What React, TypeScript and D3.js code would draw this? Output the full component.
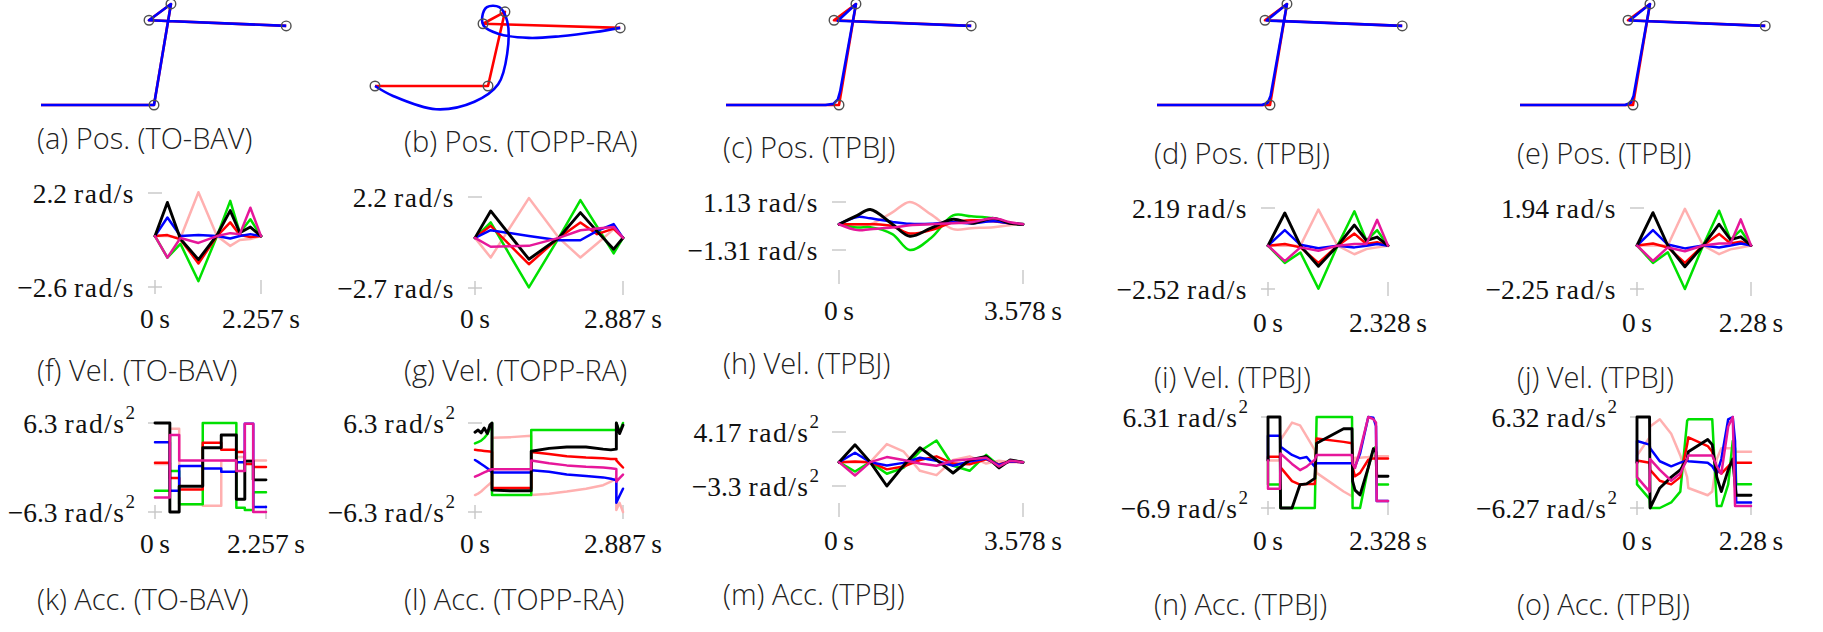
import * as d3 from 'd3';

// joint order in every series list: black, blue, red, green, magenta, pink
const JOINT_COLORS = ['#000000', '#0000ff', '#ff0000', '#00e000', '#e6179a', '#ffb0b0'];
const DRAW_ORDER = [5, 3, 2, 1, 0, 4];

// ---- path waypoints (workspace units): start, corner, top, upper-left, end ----
const wpX = [0, 1.0, 1.15, 0.956, 2.17];
const wpY = [0, 0, 0.894, 0.75, 0.7];

// executed paths
const toppBX = [0, 0.16, 0.54, 0.88, 1.09, 1.17, 1.17, 1.1, 0.99, 0.95, 0.96, 1.09, 1.36, 1.64, 1.95, 2.17];
const toppBY = [0, -0.12, -0.28, -0.19, 0.02, 0.39, 0.78, 0.95, 0.95, 0.84, 0.73, 0.63, 0.58, 0.6, 0.65, 0.7];
const tpbjCX = [0, 0.88, 0.95, 0.99, 1.01, 1.15, 0.99, 2.17];
const tpbjCY = [0, 0, 0.01, 0.05, 0.12, 0.894, 0.745, 0.7];
const tpbjDX = [0, 0.93, 0.98, 1.005, 1.15, 0.97, 2.17];
const tpbjDY = [0, 0, 0.02, 0.08, 0.894, 0.748, 0.7];

// ---- velocity data ----
const fTimes = [0, 0.264, 0.542, 0.925, 1.32, 1.602, 1.806, 2.031, 2.257];
const fVel = [
  [0, 1.72, -0.15, -1.2, 0.05, 1.3, 0.17, 0.46, 0],
  [0, 0.95, 0, 0.05, 0, -0.12, 0, 0.1, 0],
  [0, 0.05, -0.17, -1.4, 0, 0.7, 0.05, -0.05, 0],
  [0, -1.1, -0.4, -2.3, 0, 1.8, 0.17, 0.86, 0],
  [0, -1.1, -0.1, -0.35, 0, 0.15, 0.1, 1.45, 0],
  [0, 0, -0.1, 2.24, 0, -0.5, -0.2, -0.15, 0],
];

const gTimes = [0, 0.306, 1.051, 1.634, 2.056, 2.382, 2.705, 2.887];
const gVel = [
  [0, 1.45, -1.15, 0, 1.36, 0.35, -0.61, 0],
  [0, 0.41, 0.1, -0.13, -0.13, 0.38, 0.74, 0],
  [0, 0.65, -1.42, 0, 0.83, 0.2, 0.5, 0],
  [0, 0.83, -2.67, 0, 2.03, 0.6, -0.84, 0],
  [0, -0.48, -0.43, 0, 0.41, 0.5, 0.59, 0],
  [0, -1.06, 2.14, 0, -1.06, -0.3, 0.47, 0],
];

const hTimes = [0, 0.358, 0.608, 1.038, 1.378, 1.789, 2.218, 2.576, 3.006, 3.328, 3.578];
const hVel = [
  [0, 0.45, 0.75, 0, -0.61, -0.2, 0.25, 0.05, 0.3, 0.05, 0],
  [0, 0.37, 0.3, 0.12, 0.02, 0.02, 0.1, 0.05, 0.15, 0.05, 0],
  [0, 0, 0, -0.1, -0.47, -0.3, 0.1, 0.2, 0.15, 0.05, 0],
  [0, -0.17, -0.15, -0.5, -1.31, -0.7, 0.45, 0.4, 0.3, 0.05, 0],
  [0, -0.3, -0.25, -0.17, -0.05, 0, 0.05, 0.1, 0.3, 0.1, 0],
  [0, -0.05, 0, 0.6, 1.13, 0.5, -0.25, -0.2, -0.15, -0.05, 0],
];

const iTimes = [0, 0.326, 0.629, 0.978, 1.35, 1.676, 1.909, 2.118, 2.328];
const iVel = [
  [0, 1.9, 0, -1.2, 0, 1.2, 0.3, 0.5, 0],
  [0, 0.9, 0.05, -0.15, 0, -0.1, 0, 0.1, 0],
  [0, 0.1, -0.1, -1.0, 0, 0.7, 0.1, 0.2, 0],
  [0, -1.0, -0.4, -2.5, 0, 2.0, 0.3, 0.9, 0],
  [0, -0.9, -0.1, -0.3, 0, 0.1, 0.1, 1.5, 0],
  [0, 0, 0, 2.1, 0, -0.5, -0.2, -0.1, 0],
];

const jTimes = [0, 0.319, 0.616, 0.958, 1.322, 1.642, 1.87, 2.075, 2.28];
const jVel = [
  [0, 1.7, 0, -1.1, 0, 1.1, 0.3, 0.45, 0],
  [0, 0.8, 0.05, -0.15, 0, -0.1, 0, 0.1, 0],
  [0, 0.1, -0.1, -0.9, 0, 0.6, 0.1, 0.2, 0],
  [0, -0.9, -0.35, -2.25, 0, 1.8, 0.3, 0.8, 0],
  [0, -0.8, -0.1, -0.3, 0, 0.1, 0.1, 1.35, 0],
  [0, 0, 0, 1.9, 0, -0.45, -0.2, -0.1, 0],
];

// ---- acceleration data ----
const kTimes = [0, 0.302, 0.492, 0.971, 1.347, 1.654, 1.826, 1.997, 2.257];
const kAcc = [
  [6.3, -6.3, -2.66, 2.8, 4.6, -4.5, 0.9, -1.75, -1.75],
  [3.57, -3.3, 0.2, -0.15, -0.6, 0.75, 6.2, -5.6, -5.6],
  [0.66, -1.5, -3.1, 3.5, 2.5, 2.2, 0.5, 0.07, 0.07],
  [-3.3, -0.5, -5.2, 6.3, 6.3, -5.7, -6.0, -3.5, -3.5],
  [-4.25, 4.6, 0.98, 0.98, 0.98, -0.5, 6.2, -6.3, -6.3],
  [0.5, 5.5, -5.2, -5.4, 1.0, 1.5, 1.0, 1.0, 1.0],
];

const lTimes = [0, 0.06, 0.12, 0.18, 0.24, 0.29, 0.332, 0.332, 0.7, 1.097, 1.097, 1.444, 1.79, 2.165, 2.5, 2.65, 2.757, 2.757, 2.82, 2.887];
const lAcc = [
  [5.0, 5.3, 4.9, 5.6, 4.8, 6.0, 6.3, -3.2, -3.3, -3.3, 2.3, 2.7, 2.9, 2.9, 2.6, 2.5, 2.6, 6.3, 4.8, 6.0],
  [1.06, 0.8, 0.5, 0.2, -0.1, -0.4, -0.7, -0.7, -0.7, -0.7, -0.4, -0.6, -1.0, -1.2, -1.4, -1.6, -1.8, -5.0, -4.0, -3.0],
  [2.5, 2.45, 2.4, 2.35, 2.3, 2.25, 2.2, -2.9, -2.9, -2.9, 2.2, 1.9, 1.6, 1.4, 1.3, 1.2, 1.2, 1.0, 0.5, 0.0],
  [3.4, 3.6, 3.8, 4.2, 4.7, 5.5, 6.3, -3.9, -3.9, -3.9, 5.3, 5.3, 5.3, 5.3, 5.3, 5.3, 5.3, 6.3, 5.0, 6.3],
  [-1.3, -1.1, -0.9, -0.7, -0.5, -0.35, -0.25, -0.25, -0.25, -0.25, 1.0, 0.6, 0.3, 0.1, 0.0, -0.1, -0.2, -2.0, -1.5, -1.0],
  [-3.9, -3.7, -3.4, -3.0, -2.6, -2.3, -2.0, 4.2, 4.3, 4.5, -3.9, -3.7, -3.4, -3.0, -2.5, -2.0, -1.5, -6.0, -5.0, -6.3],
];

const mTimes = [0, 0.311, 0.608, 0.93, 1.252, 1.574, 1.896, 2.218, 2.54, 2.862, 3.113, 3.328, 3.578];
const mAcc = [
  [0, 2.4, 0, -3.3, -0.5, 2.0, 0.3, -1.5, 0.3, 0.8, -0.8, 0.3, 0],
  [0, 1.3, 0, -0.46, -0.1, 0.6, 0.2, -0.5, 0.1, 0.5, -0.4, 0.1, 0],
  [0, 0.1, 0, -1.0, -0.6, 0.3, 0.8, -0.2, -0.3, 0.4, -0.3, 0.1, 0],
  [0, -1.3, 0, -1.6, -0.8, 1.5, 3.0, -0.5, -1.2, 1.0, -0.5, 0.2, 0],
  [0, -1.84, 0, 0.7, 0.3, -0.2, -0.5, 0.2, 0.4, 0.6, -0.6, 0.2, 0],
  [0, 0, 0, 2.5, 1.5, -1.2, -1.8, 0.3, 0.8, -0.2, 0.2, 0, 0],
];

const nTimes = [0, 0, 0.233, 0.244, 0.466, 0.622, 0.75, 0.908, 0.943, 1.467, 1.63, 1.641, 1.688, 1.786, 1.946, 2.044, 2.095, 2.109, 2.328];
const nAcc = [
  [0, 6.31, 6.31, -6.9, -6.9, -3.5, -3.4, -2.6, 2.5, 4.6, 4.6, -3.0, -4.3, -5.0, -1.0, 1.7, 1.2, -2.3, -2.3],
  [0, 3.6, 3.6, 2.0, 0.8, 0.3, 0.5, -0.9, -0.4, -0.4, -0.4, -0.6, -0.9, 1.0, 6.3, 6.2, 5.0, -5.9, -5.9],
  [0, 0.55, 0.55, -1.0, -3.0, -3.5, -3.4, -3.4, 3.2, 2.7, 2.5, -1.0, -2.3, -1.8, 0.1, 0.3, 0.3, 0.3, 0.3],
  [0, -3.5, -3.5, -6.9, -6.9, -6.9, -6.9, -6.9, 6.31, 6.31, 6.31, -6.9, -6.9, -6.9, -1.0, 1.6, 2.0, -3.5, -3.5],
  [0, -4.1, -4.1, 1.0, -0.5, -1.4, -0.9, 0.1, 0.8, 0.8, 0.8, -0.5, -1.1, 1.5, 6.31, 6.0, 5.5, -5.9, -5.9],
  [0, 0, 0, 3.0, 5.5, 5.1, 3.5, 1.5, -1.8, -4.5, -5.2, -2.0, 0.4, 0.4, 0.5, 0.6, 0.6, 0.6, 0.6],
];

const oTimes = [0, 0, 0.251, 0.262, 0.456, 0.684, 0.866, 1.003, 1.026, 1.414, 1.505, 1.596, 1.687, 1.824, 1.915, 1.961, 1.984, 2.28];
const oAcc = [
  [0, 6.32, 6.32, -6.27, -3.5, -2.0, -1.0, 0.5, 1.5, 3.2, 2.5, -2.0, -4.0, -1.0, 0.5, -3.0, -4.5, -4.5],
  [0, 3.0, 2.5, 2.0, 0.2, -0.5, 0.0, 0.3, 0.2, 0.0, -0.5, -1.5, 0.5, 6.0, 6.32, 3.0, -5.5, -5.5],
  [0, 0.3, 0.0, -1.0, -2.5, -3.0, -2.0, 2.5, 3.5, 2.3, 1.5, -1.0, -1.5, -0.5, 0.2, 0.0, 0.0, 0.0],
  [0, -3.0, -5.0, -6.27, -6.27, -5.5, -4.0, 5.8, 6.0, 6.0, 6.0, -6.0, -6.0, -3.0, 3.0, 2.0, -3.0, -3.0],
  [0, -2.0, -4.0, 0.5, -1.0, -2.5, -1.5, 0.5, 1.0, 1.0, 1.0, -0.5, -1.5, 5.0, 6.32, -6.0, -6.0, -6.0],
  [0, 1.0, 3.5, 5.0, 6.0, 4.0, 1.0, -2.0, -3.5, -4.5, -4.0, 0.5, 2.0, 2.0, 2.0, 1.5, 1.5, 1.5],
];

// ---- labels ----
const POS_CAPTIONS = ['(a) Pos. (TO-BAV)', '(b) Pos. (TOPP-RA)', '(c) Pos. (TPBJ)', '(d) Pos. (TPBJ)', '(e) Pos. (TPBJ)'];
const VEL_CAPTIONS = ['(f) Vel. (TO-BAV)', '(g) Vel. (TOPP-RA)', '(h) Vel. (TPBJ)', '(i) Vel. (TPBJ)', '(j) Vel. (TPBJ)'];
const ACC_CAPTIONS = ['(k) Acc. (TO-BAV)', '(l) Acc. (TOPP-RA)', '(m) Acc. (TPBJ)', '(n) Acc. (TPBJ)', '(o) Acc. (TPBJ)'];
const DURATIONS = [2.257, 2.887, 3.578, 2.328, 2.28];
const DURATION_LABELS = ['2.257', '2.887', '3.578', '2.328', '2.28'];
const VEL_MAX = [2.2, 2.2, 1.13, 2.19, 1.94];
const VEL_MIN = [-2.6, -2.7, -1.31, -2.52, -2.25];
const VEL_MAX_LABELS = ['2.2', '2.2', '1.13', '2.19', '1.94'];
const VEL_MIN_LABELS = ['\u22122.6', '\u22122.7', '\u22121.31', '\u22122.52', '\u22122.25'];
const ACC_MAX = [6.3, 6.3, 4.17, 6.31, 6.32];
const ACC_MIN = [-6.3, -6.3, -3.3, -6.9, -6.27];
const ACC_MAX_LABELS = ['6.3', '6.3', '4.17', '6.31', '6.32'];
const ACC_MIN_LABELS = ['\u22126.3', '\u22126.3', '\u22123.3', '\u22126.9', '\u22126.27'];

// ---- layout (pixels) ----
const COL_LEFT = [155, 475, 839, 1268, 1637];
const VEL_RIGHT = [261, 623, 1023, 1388, 1751];
const ACC_RIGHT = [266, 623, 1023, 1388, 1751];
const CAPTION_X = [37, 404, 723, 1154, 1517];
const POS_CAPTION_Y = [137, 140, 146, 152, 152];
const VEL_CAPTION_Y = [369, 369, 362, 376, 376];
const ACC_CAPTION_Y = [598, 598, 593, 603, 603];
const VEL_TOP = [193, 197, 202, 208, 208];
const VEL_BOTTOM = [287, 288, 250, 289, 289];
const VEL_AXIS = [287, 288, 277, 289, 289];
const VEL_TLABEL_Y = [318, 318, 310, 322, 322];
const ACC_TOP = [423, 423, 432, 417, 417];
const ACC_BOTTOM = [512, 512, 486, 508, 508];
const ACC_AXIS = [512, 512, 510, 508, 508];
const ACC_TLABEL_Y = [543, 543, 540, 540, 540];
const POS_ORIGIN_X = [41, 375, 726, 1157, 1520];
const POS_ORIGIN_Y = [105, 86, 105, 105, 105];
const POS_SCALE_Y = [113, 83, 113, 113, 113];
const POS_SCALE_X = 113;

const SERIF = '"Liberation Serif", "Times New Roman", serif';
const SANS = '"Open Sans", "Noto Sans", sans-serif';
const TICK_COLOR = '#c6c6c6';

interface PanelProps {
  col: number;
  times: number[];
  series: number[][];
  yMin: number;
  yMax: number;
  minLabel: string;
  maxLabel: string;
  squared: boolean;
  top: number;
  bottom: number;
  axisY: number;
  right: number;
  tLabelY: number;
  curve: d3.CurveFactory;
}

function Unit({ squared }: { squared: boolean }) {
  return (
    <>
      <tspan letterSpacing={1.5}>{'\u2009rad/s'}</tspan>
      {squared && <tspan dy={-11} fontSize={19}>2</tspan>}
    </>
  );
}

function TimePanel(p: PanelProps) {
  const left = COL_LEFT[p.col];
  const x = d3.scaleLinear().domain([0, DURATIONS[p.col]]).range([left, p.right]);
  const y = d3.scaleLinear().domain([p.yMin, p.yMax]).range([p.bottom, p.top]);
  const line = d3
    .line<number>()
    .x((_, i) => x(p.times[i]))
    .y((v) => y(v))
    .curve(p.curve);

  return (
    <g>
      {/* tick marks */}
      <g stroke={TICK_COLOR} strokeWidth={1.4}>
        <line x1={left - 7} x2={left + 7} y1={y(p.yMax)} y2={y(p.yMax)} />
        <line x1={left - 7} x2={left + 7} y1={y(p.yMin)} y2={y(p.yMin)} />
        <line x1={x(0)} x2={x(0)} y1={p.axisY - 7} y2={p.axisY + 7} />
        <line x1={x(DURATIONS[p.col])} x2={x(DURATIONS[p.col])} y1={p.axisY - 7} y2={p.axisY + 7} />
      </g>
      {/* curves */}
      <g fill="none" strokeLinejoin="round" strokeLinecap="round">
        {DRAW_ORDER.map((j) => (
          <path
            key={j}
            d={line(p.series[j]) ?? ''}
            stroke={JOINT_COLORS[j]}
            strokeWidth={j === 0 ? 2.9 : 2.5}
          />
        ))}
      </g>
      {/* tick labels */}
      <g fontFamily={SERIF} fontSize={27.5} fill="#111">
        <text x={left - 20} y={y(p.yMax)} textAnchor="end" dominantBaseline="central">
          {p.maxLabel}
          <Unit squared={p.squared} />
        </text>
        <text x={left - 20} y={y(p.yMin)} textAnchor="end" dominantBaseline="central">
          {p.minLabel}
          <Unit squared={p.squared} />
        </text>
        <text x={x(0)} y={p.tLabelY} textAnchor="middle" dominantBaseline="central">
          {'0\u2009s'}
        </text>
        <text x={x(DURATIONS[p.col])} y={p.tLabelY} textAnchor="middle" dominantBaseline="central">
          {DURATION_LABELS[p.col] + '\u2009s'}
        </text>
      </g>
    </g>
  );
}

function PosPanel({ col, pathX, pathY, smooth }: { col: number; pathX: number[]; pathY: number[]; smooth: boolean }) {
  const ox = POS_ORIGIN_X[col];
  const oy = POS_ORIGIN_Y[col];
  const x = d3.scaleLinear().domain([0, 1]).range([ox, ox + POS_SCALE_X]);
  const y = d3.scaleLinear().domain([0, 1]).range([oy, oy - POS_SCALE_Y[col]]);
  const ref = d3
    .line<number>()
    .x((v) => x(v))
    .y((_, i) => y(wpY[i]));
  const exec = d3
    .line<number>()
    .x((v) => x(v))
    .y((_, i) => y(pathY[i]))
    .curve(smooth ? d3.curveCatmullRom.alpha(0.5) : d3.curveLinear);
  const circleIdx = col === 1 ? [0, 1, 2, 3, 4] : [1, 2, 3, 4];
  return (
    <g>
      <path d={ref(wpX) ?? ''} fill="none" stroke="#ff0000" strokeWidth={2.6} strokeLinejoin="round" />
      <path d={exec(pathX) ?? ''} fill="none" stroke="#0000ff" strokeWidth={2.6} strokeLinejoin="round" />
      {circleIdx.map((i) => (
        <circle key={i} cx={x(wpX[i])} cy={y(wpY[i])} r={4.8} fill="none" stroke="#505050" strokeWidth={1.4} />
      ))}
    </g>
  );
}

function Caption({ x, y, text }: { x: number; y: number; text: string }) {
  return (
    <text x={x} y={y} fontFamily={SANS} fontWeight={300} fontSize={29} fill="#222" dominantBaseline="central">
      {text}
    </text>
  );
}

const VEL_DATA = [
  { times: fTimes, series: fVel, curve: d3.curveLinear },
  { times: gTimes, series: gVel, curve: d3.curveLinear },
  { times: hTimes, series: hVel, curve: d3.curveCatmullRom.alpha(0.5) },
  { times: iTimes, series: iVel, curve: d3.curveLinear },
  { times: jTimes, series: jVel, curve: d3.curveLinear },
];
const ACC_DATA = [
  { times: kTimes, series: kAcc, curve: d3.curveStepAfter },
  { times: lTimes, series: lAcc, curve: d3.curveLinear },
  { times: mTimes, series: mAcc, curve: d3.curveLinear },
  { times: nTimes, series: nAcc, curve: d3.curveLinear },
  { times: oTimes, series: oAcc, curve: d3.curveLinear },
];
const POS_PATHS = [
  { pathX: wpX, pathY: wpY, smooth: false },
  { pathX: toppBX, pathY: toppBY, smooth: true },
  { pathX: tpbjCX, pathY: tpbjCY, smooth: false },
  { pathX: tpbjDX, pathY: tpbjDY, smooth: false },
  { pathX: tpbjDX, pathY: tpbjDY, smooth: false },
];

export default function App() {
  const cols = [0, 1, 2, 3, 4];
  return (
    <svg
      width={1823}
      height={632}
      style={{ position: 'absolute', left: 0, top: 0, background: '#fff' }}
    >
      {cols.map((c) => (
        <g key={c}>
          <PosPanel col={c} {...POS_PATHS[c]} />
          <Caption x={CAPTION_X[c]} y={POS_CAPTION_Y[c]} text={POS_CAPTIONS[c]} />
          <TimePanel
            col={c}
            times={VEL_DATA[c].times}
            series={VEL_DATA[c].series}
            curve={VEL_DATA[c].curve}
            yMin={VEL_MIN[c]}
            yMax={VEL_MAX[c]}
            minLabel={VEL_MIN_LABELS[c]}
            maxLabel={VEL_MAX_LABELS[c]}
            squared={false}
            top={VEL_TOP[c]}
            bottom={VEL_BOTTOM[c]}
            axisY={VEL_AXIS[c]}
            right={VEL_RIGHT[c]}
            tLabelY={VEL_TLABEL_Y[c]}
          />
          <Caption x={CAPTION_X[c]} y={VEL_CAPTION_Y[c]} text={VEL_CAPTIONS[c]} />
          <TimePanel
            col={c}
            times={ACC_DATA[c].times}
            series={ACC_DATA[c].series}
            curve={ACC_DATA[c].curve}
            yMin={ACC_MIN[c]}
            yMax={ACC_MAX[c]}
            minLabel={ACC_MIN_LABELS[c]}
            maxLabel={ACC_MAX_LABELS[c]}
            squared={true}
            top={ACC_TOP[c]}
            bottom={ACC_BOTTOM[c]}
            axisY={ACC_AXIS[c]}
            right={ACC_RIGHT[c]}
            tLabelY={ACC_TLABEL_Y[c]}
          />
          <Caption x={CAPTION_X[c]} y={ACC_CAPTION_Y[c]} text={ACC_CAPTIONS[c]} />
        </g>
      ))}
    </svg>
  );
}
